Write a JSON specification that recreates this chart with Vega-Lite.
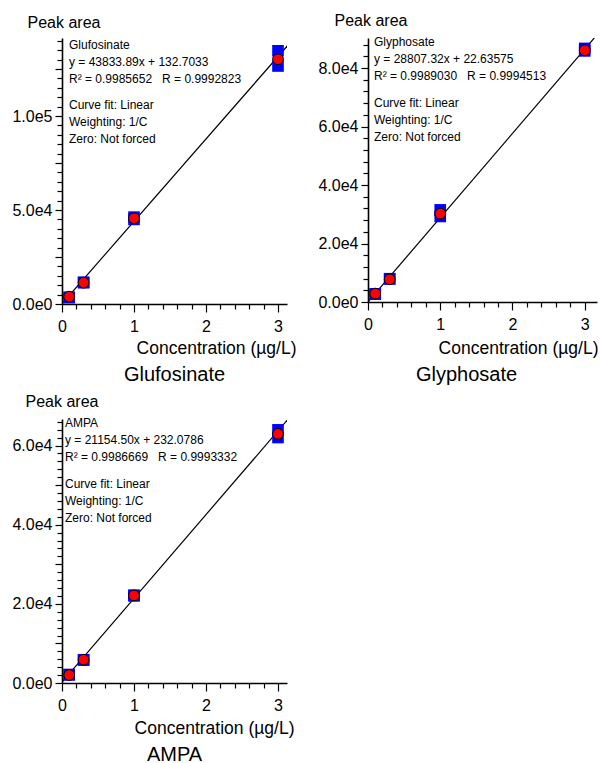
{
  "$schema": "https://vega.github.io/schema/vega-lite/v6.json",
  "padding": {"left": 11, "top": 12, "right": 0, "bottom": 0},
  "background": "white",
  "config": {
    "view": {"stroke": null},
    "font": "Liberation Sans",
    "axis": {
      "grid": false,
      "domainColor": "black",
      "domainWidth": 1.6,
      "tickColor": "black",
      "tickWidth": 1.2,
      "tickCount": 500,
      "labelColor": "black",
      "titleColor": "black",
      "labelFont": "Liberation Sans",
      "titleFont": "Liberation Sans",
      "labelFontSize": 16,
      "titleFontWeight": "normal",
      "labelOverlap": false,
      "labelFlush": false,
      "labelBound": false
    },
    "title": {"font": "Liberation Sans", "fontWeight": "normal", "color": "black", "fontSize": 20},
    "text": {"font": "Liberation Sans"}
  },
  "datasets": {
    "points": [
      {"analyte": "Glufosinate", "kind": "replicate", "conc": 0.1, "area": 3400},
      {"analyte": "Glufosinate", "kind": "replicate", "conc": 0.1, "area": 3550},
      {"analyte": "Glufosinate", "kind": "replicate", "conc": 0.3, "area": 11300},
      {"analyte": "Glufosinate", "kind": "replicate", "conc": 0.3, "area": 11600},
      {"analyte": "Glufosinate", "kind": "replicate", "conc": 1, "area": 45000},
      {"analyte": "Glufosinate", "kind": "replicate", "conc": 1, "area": 46200},
      {"analyte": "Glufosinate", "kind": "replicate", "conc": 3, "area": 134700},
      {"analyte": "Glufosinate", "kind": "replicate", "conc": 3, "area": 126600},
      {"analyte": "Glufosinate", "kind": "mean", "conc": 0.1, "area": 3900},
      {"analyte": "Glufosinate", "kind": "mean", "conc": 0.3, "area": 11350},
      {"analyte": "Glufosinate", "kind": "mean", "conc": 1, "area": 45600},
      {"analyte": "Glufosinate", "kind": "mean", "conc": 3, "area": 130200},
      {"analyte": "Glyphosate", "kind": "replicate", "conc": 0.1, "area": 2700},
      {"analyte": "Glyphosate", "kind": "replicate", "conc": 0.1, "area": 2800},
      {"analyte": "Glyphosate", "kind": "replicate", "conc": 0.3, "area": 7900},
      {"analyte": "Glyphosate", "kind": "replicate", "conc": 0.3, "area": 7960},
      {"analyte": "Glyphosate", "kind": "replicate", "conc": 1, "area": 31500},
      {"analyte": "Glyphosate", "kind": "replicate", "conc": 1, "area": 29250},
      {"analyte": "Glyphosate", "kind": "replicate", "conc": 3, "area": 86700},
      {"analyte": "Glyphosate", "kind": "replicate", "conc": 3, "area": 85850},
      {"analyte": "Glyphosate", "kind": "mean", "conc": 0.1, "area": 2870},
      {"analyte": "Glyphosate", "kind": "mean", "conc": 0.3, "area": 7760},
      {"analyte": "Glyphosate", "kind": "mean", "conc": 1, "area": 30200},
      {"analyte": "Glyphosate", "kind": "mean", "conc": 3, "area": 86060},
      {"analyte": "AMPA", "kind": "replicate", "conc": 0.1, "area": 2050},
      {"analyte": "AMPA", "kind": "replicate", "conc": 0.1, "area": 2150},
      {"analyte": "AMPA", "kind": "replicate", "conc": 0.3, "area": 5800},
      {"analyte": "AMPA", "kind": "replicate", "conc": 0.3, "area": 5860},
      {"analyte": "AMPA", "kind": "replicate", "conc": 1, "area": 22000},
      {"analyte": "AMPA", "kind": "replicate", "conc": 1, "area": 22200},
      {"analyte": "AMPA", "kind": "replicate", "conc": 3, "area": 63960},
      {"analyte": "AMPA", "kind": "replicate", "conc": 3, "area": 62020},
      {"analyte": "AMPA", "kind": "mean", "conc": 0.1, "area": 2020},
      {"analyte": "AMPA", "kind": "mean", "conc": 0.3, "area": 5880},
      {"analyte": "AMPA", "kind": "mean", "conc": 1, "area": 22120},
      {"analyte": "AMPA", "kind": "mean", "conc": 3, "area": 62950}
    ],
    "fits": [
      {"analyte": "Glufosinate", "conc": 0, "area": 132.7},
      {"analyte": "Glufosinate", "conc": 3.14, "area": 137771},
      {"analyte": "Glyphosate", "conc": 0, "area": 22.6},
      {"analyte": "Glyphosate", "conc": 3.14, "area": 90478},
      {"analyte": "AMPA", "conc": 0, "area": 232.1},
      {"analyte": "AMPA", "conc": 3.14, "area": 66657}
    ],
    "notes": [
      {"analyte": "Glufosinate", "stats": "Glufosinate\ny = 43833.89x + 132.7033\nR² = 0.9985652\u00a0\u00a0\u00a0R = 0.9992823", "settings": "Curve fit: Linear\nWeighting: 1/C\nZero: Not forced"},
      {"analyte": "Glyphosate", "stats": "Glyphosate\ny = 28807.32x + 22.63575\nR² = 0.9989030\u00a0\u00a0\u00a0R = 0.9994513", "settings": "Curve fit: Linear\nWeighting: 1/C\nZero: Not forced"},
      {"analyte": "AMPA", "stats": "AMPA\ny = 21154.50x + 232.0786\nR² = 0.9986669\u00a0\u00a0\u00a0R = 0.9993332", "settings": "Curve fit: Linear\nWeighting: 1/C\nZero: Not forced"}
    ]
  },
  "columns": 2,
  "bounds": "flush",
  "spacing": {"row": 115, "column": 81},
  "concat": [
    {
      "width": 225,
      "height": 266,
      "title": {"text": "Glufosinate", "orient": "bottom", "anchor": "middle", "offset": 8},
      "layer": [
        {
          "data": {"name": "fits"},
          "transform": [{"filter": "datum.analyte === 'Glufosinate'"}],
          "mark": {"type": "line", "color": "black", "strokeWidth": 1.2, "clip": true},
          "encoding": {
            "x": {"field": "conc", "type": "quantitative", "scale": {"domain": [0, 3.125], "nice": false, "zero": false},
              "axis": {"title": "Concentration (µg/L)", "titleFontSize": 17.5, "titleX": 234, "titleY": 49, "titleAlign": "right", "titleBaseline": "alphabetic",
                "values": [0, 0.2, 0.4, 0.6, 0.8, 1, 1.2, 1.4, 1.6, 1.8, 2, 2.2, 2.4, 2.6, 2.8, 3], "tickCount": 500,
                "labelExpr": "datum.value % 1 === 0 ? format(datum.value, 'd') : ''",
                "tickSize": {"condition": {"test": "datum.value % 1 === 0", "value": 8}, "value": 5},
                "labelPadding": 6, "labelOverlap": false}},
            "y": {"field": "area", "type": "quantitative", "scale": {"domain": [0, 141500], "nice": false},
              "axis": {"title": "Peak area", "titleFontSize": 16, "titleAngle": 0, "titleX": -35, "titleY": -10.3, "titleAlign": "left", "titleBaseline": "alphabetic",
                "values": [0, 5000, 10000, 15000, 20000, 25000, 30000, 35000, 40000, 45000, 50000, 55000, 60000, 65000, 70000, 75000, 80000, 85000, 90000, 95000, 100000, 105000, 110000, 115000, 120000, 125000, 130000, 135000, 140000], "tickCount": 500,
                "labelExpr": "datum.value % 50000 === 0 ? replace(format(datum.value, '.1e'), '+', '') : ''",
                "tickSize": {"condition": {"test": "datum.value % 25000 === 0", "value": 7}, "value": 5},
                "labelPadding": 3, "labelBaseline": "middle", "labelOverlap": false}}
          }
        },
        {
          "data": {"name": "points"},
          "transform": [{"filter": "datum.analyte === 'Glufosinate' && datum.kind === 'replicate'"}],
          "mark": {"type": "point", "shape": "square", "filled": true, "color": "#0000ff", "size": 135, "opacity": 1},
          "encoding": {"x": {"field": "conc", "type": "quantitative"}, "y": {"field": "area", "type": "quantitative"}}
        },
        {
          "data": {"name": "points"},
          "transform": [{"filter": "datum.analyte === 'Glufosinate' && datum.kind === 'mean'"}],
          "mark": {"type": "point", "shape": "circle", "filled": true, "fill": "#ff0000", "stroke": "black", "strokeWidth": 1, "size": 115, "opacity": 1},
          "encoding": {"x": {"field": "conc", "type": "quantitative"}, "y": {"field": "area", "type": "quantitative"}}
        },
        {
          "data": {"name": "notes"},
          "transform": [{"filter": "datum.analyte === 'Glufosinate'"}],
          "mark": {"type": "text", "align": "left", "baseline": "top", "fontSize": 12, "lineHeight": 17, "lineBreak": "\n", "dx": 7, "dy": 2, "color": "black"},
          "encoding": {"text": {"field": "stats"}, "x": {"datum": 0}, "y": {"datum": 141500}}
        },
        {
          "data": {"name": "notes"},
          "transform": [{"filter": "datum.analyte === 'Glufosinate'"}],
          "mark": {"type": "text", "align": "left", "baseline": "top", "fontSize": 12, "lineHeight": 17, "lineBreak": "\n", "dx": 7, "dy": 62, "color": "black"},
          "encoding": {"text": {"field": "settings"}, "x": {"datum": 0}, "y": {"datum": 141500}}
        }
      ]
    },
    {
      "width": 229,
      "height": 264,
      "title": {"text": "Glyphosate", "orient": "bottom", "anchor": "middle", "offset": 8, "dx": -16},
      "layer": [
        {
          "data": {"name": "fits"},
          "transform": [{"filter": "datum.analyte === 'Glyphosate'"}],
          "mark": {"type": "line", "color": "black", "strokeWidth": 1.2, "clip": true},
          "encoding": {
            "x": {"field": "conc", "type": "quantitative", "scale": {"domain": [0, 3.17], "nice": false, "zero": false},
              "axis": {"title": "Concentration (µg/L)", "titleFontSize": 17.5, "titleX": 230, "titleY": 51, "titleAlign": "right", "titleBaseline": "alphabetic",
                "values": [0, 0.2, 0.4, 0.6, 0.8, 1, 1.2, 1.4, 1.6, 1.8, 2, 2.2, 2.4, 2.6, 2.8, 3], "tickCount": 500,
                "labelExpr": "datum.value % 1 === 0 ? format(datum.value, 'd') : ''",
                "tickSize": {"condition": {"test": "datum.value % 1 === 0", "value": 8}, "value": 5},
                "labelPadding": 6, "labelOverlap": false}},
            "y": {"field": "area", "type": "quantitative", "scale": {"domain": [0, 90260], "nice": false},
              "axis": {"title": "Peak area", "titleFontSize": 16, "titleAngle": 0, "titleX": -34, "titleY": -13, "titleAlign": "left", "titleBaseline": "alphabetic",
                "values": [0, 4000, 8000, 12000, 16000, 20000, 24000, 28000, 32000, 36000, 40000, 44000, 48000, 52000, 56000, 60000, 64000, 68000, 72000, 76000, 80000, 84000, 88000], "tickCount": 500,
                "labelExpr": "datum.value % 20000 === 0 ? replace(format(datum.value, '.1e'), '+', '') : ''",
                "tickSize": {"condition": {"test": "datum.value % 20000 === 0", "value": 7}, "value": 5},
                "labelPadding": 3, "labelBaseline": "middle", "labelOverlap": false}}
          }
        },
        {
          "data": {"name": "points"},
          "transform": [{"filter": "datum.analyte === 'Glyphosate' && datum.kind === 'replicate'"}],
          "mark": {"type": "point", "shape": "square", "filled": true, "color": "#0000ff", "size": 135, "opacity": 1},
          "encoding": {"x": {"field": "conc", "type": "quantitative"}, "y": {"field": "area", "type": "quantitative"}}
        },
        {
          "data": {"name": "points"},
          "transform": [{"filter": "datum.analyte === 'Glyphosate' && datum.kind === 'mean'"}],
          "mark": {"type": "point", "shape": "circle", "filled": true, "fill": "#ff0000", "stroke": "black", "strokeWidth": 1, "size": 115, "opacity": 1},
          "encoding": {"x": {"field": "conc", "type": "quantitative"}, "y": {"field": "area", "type": "quantitative"}}
        },
        {
          "data": {"name": "notes"},
          "transform": [{"filter": "datum.analyte === 'Glyphosate'"}],
          "mark": {"type": "text", "align": "left", "baseline": "top", "fontSize": 12, "lineHeight": 17, "lineBreak": "\n", "dx": 6, "dy": -1, "color": "black"},
          "encoding": {"text": {"field": "stats"}, "x": {"datum": 0}, "y": {"datum": 90260}}
        },
        {
          "data": {"name": "notes"},
          "transform": [{"filter": "datum.analyte === 'Glyphosate'"}],
          "mark": {"type": "text", "align": "left", "baseline": "top", "fontSize": 12, "lineHeight": 17, "lineBreak": "\n", "dx": 6, "dy": 59.5, "color": "black"},
          "encoding": {"text": {"field": "settings"}, "x": {"datum": 0}, "y": {"datum": 90260}}
        }
      ]
    },
    {
      "width": 225,
      "height": 264,
      "title": {"text": "AMPA", "orient": "bottom", "anchor": "middle", "offset": 8},
      "layer": [
        {
          "data": {"name": "fits"},
          "transform": [{"filter": "datum.analyte === 'AMPA'"}],
          "mark": {"type": "line", "color": "black", "strokeWidth": 1.2, "clip": true},
          "encoding": {
            "x": {"field": "conc", "type": "quantitative", "scale": {"domain": [0, 3.125], "nice": false, "zero": false},
              "axis": {"title": "Concentration (µg/L)", "titleFontSize": 17.5, "titleX": 232, "titleY": 50, "titleAlign": "right", "titleBaseline": "alphabetic",
                "values": [0, 0.2, 0.4, 0.6, 0.8, 1, 1.2, 1.4, 1.6, 1.8, 2, 2.2, 2.4, 2.6, 2.8, 3], "tickCount": 500,
                "labelExpr": "datum.value % 1 === 0 ? format(datum.value, 'd') : ''",
                "tickSize": {"condition": {"test": "datum.value % 1 === 0", "value": 8}, "value": 5},
                "labelPadding": 6, "labelOverlap": false}},
            "y": {"field": "area", "type": "quantitative", "scale": {"domain": [0, 66700], "nice": false},
              "axis": {"title": "Peak area", "titleFontSize": 16, "titleAngle": 0, "titleX": -37, "titleY": -12.6, "titleAlign": "left", "titleBaseline": "alphabetic",
                "values": [0, 2000, 4000, 6000, 8000, 10000, 12000, 14000, 16000, 18000, 20000, 22000, 24000, 26000, 28000, 30000, 32000, 34000, 36000, 38000, 40000, 42000, 44000, 46000, 48000, 50000, 52000, 54000, 56000, 58000, 60000, 62000, 64000, 66000], "tickCount": 500,
                "labelExpr": "datum.value % 20000 === 0 ? replace(format(datum.value, '.1e'), '+', '') : ''",
                "tickSize": {"condition": {"test": "datum.value % 10000 === 0", "value": 7}, "value": 5},
                "labelPadding": 3, "labelBaseline": "middle", "labelOverlap": false}}
          }
        },
        {
          "data": {"name": "points"},
          "transform": [{"filter": "datum.analyte === 'AMPA' && datum.kind === 'replicate'"}],
          "mark": {"type": "point", "shape": "square", "filled": true, "color": "#0000ff", "size": 135, "opacity": 1},
          "encoding": {"x": {"field": "conc", "type": "quantitative"}, "y": {"field": "area", "type": "quantitative"}}
        },
        {
          "data": {"name": "points"},
          "transform": [{"filter": "datum.analyte === 'AMPA' && datum.kind === 'mean'"}],
          "mark": {"type": "point", "shape": "circle", "filled": true, "fill": "#ff0000", "stroke": "black", "strokeWidth": 1, "size": 115, "opacity": 1},
          "encoding": {"x": {"field": "conc", "type": "quantitative"}, "y": {"field": "area", "type": "quantitative"}}
        },
        {
          "data": {"name": "notes"},
          "transform": [{"filter": "datum.analyte === 'AMPA'"}],
          "mark": {"type": "text", "align": "left", "baseline": "top", "fontSize": 12, "lineHeight": 17, "lineBreak": "\n", "dx": 3, "dy": -1, "color": "black"},
          "encoding": {"text": {"field": "stats"}, "x": {"datum": 0}, "y": {"datum": 66700}}
        },
        {
          "data": {"name": "notes"},
          "transform": [{"filter": "datum.analyte === 'AMPA'"}],
          "mark": {"type": "text", "align": "left", "baseline": "top", "fontSize": 12, "lineHeight": 17, "lineBreak": "\n", "dx": 3, "dy": 60, "color": "black"},
          "encoding": {"text": {"field": "settings"}, "x": {"datum": 0}, "y": {"datum": 66700}}
        }
      ]
    }
  ]
}
